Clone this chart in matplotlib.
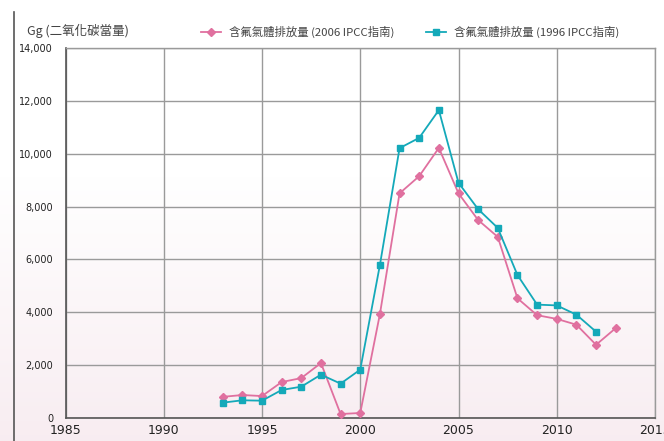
#!/usr/bin/python3

# Fluorinated gas emissions, 2006 vs 1996 IPCC guidelines

import numpy as np
import matplotlib
matplotlib.use("Agg")
import matplotlib.pyplot as plt
from matplotlib.lines import Line2D

plt.rcParams['font.family'] = ['Noto Sans CJK TC', 'DejaVu Sans']

# data
years_2006 = [1993, 1994, 1995, 1996, 1997, 1998, 1999, 2000, 2001, 2002, 2003,
              2004, 2005, 2006, 2007, 2008, 2009, 2010, 2011, 2012, 2013]
values_2006 = [800, 870, 830, 1360, 1510, 2080, 150, 190, 3930, 8500, 9150,
               10220, 8500, 7490, 6850, 4530, 3890, 3750, 3530, 2770, 3400]

years_1996 = [1993, 1994, 1995, 1996, 1997, 1998, 1999, 2000, 2001, 2002, 2003,
              2004, 2005, 2006, 2007, 2008, 2009, 2010, 2011, 2012]
values_1996 = [580, 670, 655, 1060, 1185, 1640, 1300, 1830, 5790, 10210, 10600,
               11650, 8900, 7900, 7190, 5410, 4290, 4260, 3910, 3265]

label_2006 = "含氟氣體排放量 (2006 IPCC指南)"
label_1996 = "含氟氣體排放量 (1996 IPCC指南)"
y_title = "Gg (二氧化碳當量)"

x_ticks = [1985, 1990, 1995, 2000, 2005, 2010, 2015]
y_ticks = [0, 2000, 4000, 6000, 8000, 10000, 12000, 14000]

pink = '#e0709f'
teal = '#14a9b9'

fig = plt.figure(figsize=(6.64, 4.41), dpi=100)

# pinkish vertical gradient behind everything
bg = fig.add_axes([0, 0, 1, 1], zorder=-10)
grad = np.linspace(0, 1, 256).reshape(-1, 1)
grad = np.clip((grad - 0.4) / 0.6, 0, 1)
white = np.array([1.0, 1.0, 1.0])
rose = np.array([0.972, 0.928, 0.945])
img = white + (rose - white) * grad[:, :, None]
bg.imshow(img, aspect='auto', extent=[0, 1, 0, 1], origin='upper')
bg.axis('off')

# outer decorative line at the left
fig.add_artist(Line2D([13.5 / 664, 13.5 / 664], [0, 1 - 12 / 441],
                      color='#555555', lw=1.2))

ax = fig.add_axes([65.5 / 664, 23 / 441, (655 - 65.5) / 664, (418 - 48) / 441])
ax.patch.set_alpha(0)

ax.plot(years_2006, values_2006, color=pink, lw=1.3, marker='D', ms=4.5,
        mec=pink, mfc=pink, label=label_2006, zorder=3)
ax.plot(years_1996, values_1996, color=teal, lw=1.3, marker='s', ms=5,
        mec=teal, mfc=teal, label=label_1996, zorder=3)

ax.set_xlim(1985, 2015)
ax.set_ylim(0, 14000)
ax.set_xticks(x_ticks)
ax.set_yticks(y_ticks)
ax.set_yticklabels(["{:,}".format(v) for v in y_ticks], fontsize=7,
                   family='DejaVu Sans', color='#222222')
ax.set_xticklabels([str(v) for v in x_ticks], fontsize=9,
                   family='DejaVu Sans', color='#222222')
ax.tick_params(length=0, pad=4)
ax.tick_params(axis='y', pad=9)

ax.grid(True, color='#9a9a9a', lw=1.0)
ax.set_axisbelow(True)
for side in ['top', 'right']:
    ax.spines[side].set_color('#9a9a9a')
    ax.spines[side].set_linewidth(1.0)
for side in ['left', 'bottom']:
    ax.spines[side].set_color('#555555')
    ax.spines[side].set_linewidth(1.2)

fig.text(27 / 664, 1 - 31 / 441, y_title, fontsize=9, color='#444444',
         va='center', ha='left')

ax.legend(loc='lower left', bbox_to_anchor=(0.216, 1.005), ncol=2, frameon=False,
          fontsize=8.2, handlelength=1.75, handletextpad=0.7, columnspacing=2.8,
          labelcolor='#444444', borderaxespad=0.3)

plt.savefig("out.png", dpi=100)
